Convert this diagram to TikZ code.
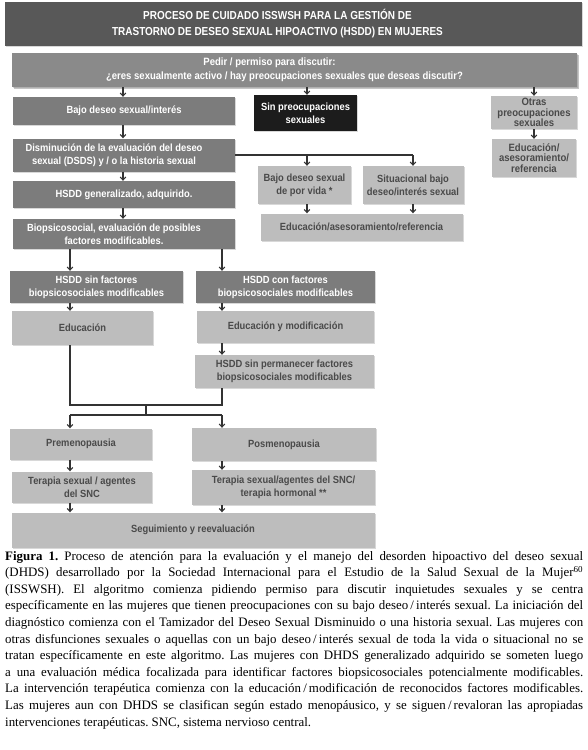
\documentclass[tikz,border=0pt]{standalone}
\usepackage{fontspec}
\setmainfont{Liberation Serif}
\newfontfamily\boxfont[FakeStretch=0.9]{Liberation Sans}
\newfontfamily\titlefont[FakeStretch=0.86]{Liberation Sans}
\usetikzlibrary{arrows.meta,shadows}
\definecolor{titlegray}{HTML}{585858}
\definecolor{pedirgray}{HTML}{8A8A8A}
\definecolor{midgray}{HTML}{7C7C7C}
\definecolor{lgray}{HTML}{BDBDBD}
\definecolor{boxtext}{HTML}{4A4A4A}
\definecolor{blackbox}{HTML}{1C1C1C}
\definecolor{linegray}{HTML}{333333}
\begin{document}
\begin{tikzpicture}[x=1pt,y=-1pt,
  boxfnt/.style={font=\boxfont\bfseries\fontsize{10.4}{13}\selectfont},
  box/.style={draw=none, inner sep=1pt, align=center, boxfnt,
    drop shadow={shadow xshift=1.2pt, shadow yshift=-1.2pt, opacity=0.3}},
  dbox/.style={box, fill=midgray, text=white},
  lbox/.style={box, fill=lgray, text=boxtext},
  kbox/.style={box, fill=blackbox, text=white},
  wtxt/.style={inner sep=0pt, align=center, text=white, boxfnt},
  arr/.style={draw=linegray, line width=1.1pt, -{Straight Barb[length=3pt,width=5.5pt]}},
  ln/.style={draw=linegray, line width=1.1pt, line join=miter}]
\useasboundingbox[fill=white] (0,0) rectangle (588,750);

% column coordinates
\coordinate (cA) at (123,0);
\coordinate (cB) at (307,0);
\coordinate (cC) at (413,0);
\coordinate (cD) at (534,0);
\coordinate (cL) at (70,0);
\coordinate (cR) at (222,0);

\node[box, fill=titlegray, minimum width=577pt, minimum height=44pt] (title) at (293.5,24) {};
\node[wtxt, font=\titlefont\bfseries\fontsize{11.6}{16.5}\selectfont, xshift=-16pt, yshift=0.5pt] (titletxt) at (title.center)
  {PROCESO DE CUIDADO ISSWSH PARA LA GESTIÓN DE\\TRASTORNO DE DESEO SEXUAL HIPOACTIVO (HSDD) EN MUJERES};

\node[box, fill=pedirgray, minimum width=565pt, minimum height=34pt,
  drop shadow={shadow xshift=2pt, shadow yshift=-2pt, opacity=0.45}] (pedir) at (294.5,70) {};
\node[wtxt, font=\boxfont\bfseries\fontsize{10.6}{14}\selectfont, xshift=-10pt] (pedirtxt) at (pedir.center)
  {Pedir / permiso para discutir:\hspace*{30pt}\\¿eres sexualmente activo / hay preocupaciones sexuales que deseas discutir?};

\node[dbox, minimum width=222pt, minimum height=28pt] (bajo) at (124,111) {Bajo deseo sexual/interés};
\node[kbox, minimum width=103pt, minimum height=36pt] (sinp) at (305.5,113) {Sin preocupaciones\\sexuales};
\node[lbox, minimum width=86pt, minimum height=33pt, font=\boxfont\bfseries\fontsize{10.6}{10.6}\selectfont] (otras) at (534,112.5) {Otras\\preocupaciones\\sexuales};
\node[lbox, minimum width=84pt, minimum height=38pt, font=\boxfont\bfseries\fontsize{10.6}{10.6}\selectfont] (eduR) at (534,158) {Educación/\\asesoramiento/\\referencia};

\node[dbox, minimum width=222pt, minimum height=33pt] (dism) at (124,155) {};
\node[wtxt, xshift=-10pt] (dismtxt) at (dism.center) {Disminución de la evaluación del deseo\\sexual (DSDS) y / o la historia sexual};
\node[lbox, minimum width=93pt, minimum height=38pt] (porvida) at (304.5,185) {Bajo deseo sexual\\de por vida *};
\node[lbox, minimum width=101pt, minimum height=38pt] (situ) at (413,185) {Situacional bajo\\deseo/interés sexual};
\node[lbox, minimum width=202pt, minimum height=27pt] (eduM) at (361.5,227) {Educación/asesoramiento/referencia};

\node[dbox, minimum width=222pt, minimum height=27pt] (hsddg) at (124,194.5) {HSDD generalizado, adquirido.};
\node[dbox, minimum width=222pt, minimum height=30pt] (bio) at (124,234) {};
\node[wtxt, xshift=-10pt] (biotxt) at (bio.center) {Biopsicosocial, evaluación de posibles\\factores modificables.};

\node[dbox, minimum width=173pt, minimum height=32pt] (sinf) at (96.5,287) {HSDD sin factores\\biopsicosociales modificables};
\node[dbox, minimum width=179pt, minimum height=32pt] (conf) at (285.5,287) {HSDD con factores\\biopsicosociales modificables};
\node[lbox, minimum width=141pt, minimum height=34pt] (edu) at (82.5,328) {Educación};
\node[lbox, minimum width=177pt, minimum height=32pt] (edum) at (285.5,327) {Educación y modificación};
\node[lbox, minimum width=179pt, minimum height=33pt] (perm) at (284.5,371.5) {HSDD sin permanecer factores\\biopsicosociales modificables};

\node[lbox, minimum width=142pt, minimum height=31pt] (pre) at (81,444) {Premenopausia};
\node[lbox, minimum width=184pt, minimum height=33pt] (pos) at (284,444.5) {Posmenopausia};
\node[lbox, minimum width=140pt, minimum height=31pt] (ter1) at (82,487) {Terapia sexual / agentes\\del SNC};
\node[lbox, minimum width=183pt, minimum height=35pt] (ter2) at (283.5,487.5) {Terapia sexual/agentes del SNC/\\terapia hormonal **};
\node[lbox, minimum width=363pt, minimum height=35pt] (seg) at (193,530) {Seguimiento y reevaluación};

% connectors, left column
\draw[arr] (pedir.south -| cA) -- (bajo.north -| cA);
\draw[arr] (bajo.south -| cA) -- (dism.north -| cA);
\draw[arr] (dism.south -| cA) -- (hsddg.north -| cA);
\draw[arr] (hsddg.south -| cA) -- (bio.north -| cA);
\draw[arr] (pedir.south -| cB) -- (sinp.north -| cB);
\draw[arr] (pedir.south -| cD) -- (otras.north -| cD);
\draw[arr] (otras.south -| cD) -- (eduR.north -| cD);

% branch from dism
\draw[ln] (dism.east) -- (dism.east -| cC);
\draw[arr] (dism.east -| cB) -- (porvida.north -| cB);
\draw[arr] (dism.east -| cC) -- (situ.north -| cC);
\draw[arr] (porvida.south -| cB) -- (eduM.north -| cB);
\draw[arr] (situ.south -| cC) -- (eduM.north -| cC);

% biopsicosocial split
\draw[arr] (bio.south -| cL) -- (sinf.north -| cL);
\draw[arr] (bio.south -| cR) -- (conf.north -| cR);
\draw[arr] (sinf.south -| cL) -- (edu.north -| cL);
\draw[arr] (conf.south -| cR) -- (edum.north -| cR);
\draw[arr] (edum.south -| cR) -- (perm.north -| cR);

% merge and split
\coordinate (m1) at (146,405);
\coordinate (m2) at (146,415);
\draw[ln] (edu.south -| cL) -- (m1 -| cL) -- (m1 -| cR) -- (perm.south -| cR);
\draw[ln] (m1) -- (m2);
\draw[ln] (m2 -| cL) -- (m2 -| cR);
\draw[arr] (m2 -| cL) -- (pre.north -| cL);
\draw[arr] (m2 -| cR) -- (pos.north -| cR);
\draw[arr] (pre.south -| cL) -- (ter1.north -| cL);
\draw[arr] (pos.south -| cR) -- (ter2.north -| cR);
\draw[arr] (ter1.south -| cL) -- (seg.north -| cL);
\draw[arr] (ter2.south -| cR) -- (seg.north -| cR);

% caption
\node[anchor=north west, inner sep=0pt, text width=578pt, align=justify,
  font=\frenchspacing\fontsize{12.9}{16.6}\selectfont] (cap) at (5,551)
{\textbf{Figura 1.} Proceso de atención para la evaluación y el manejo del desorden hipoactivo del deseo sexual\linebreak
(DHDS) desarrollado por la Sociedad Internacional para el Estudio de la Salud Sexual de la Mujer\textsuperscript{60}\linebreak
(ISSWSH). El algoritmo comienza pidiendo permiso para discutir inquietudes sexuales y se centra\linebreak
específicamente en las mujeres que tienen preocupaciones con su bajo deseo\,/\,interés sexual. La iniciación del\linebreak
diagnóstico comienza con el Tamizador del Deseo Sexual Disminuido o una historia sexual. Las mujeres con\linebreak
otras disfunciones sexuales o aquellas con un bajo deseo\,/\,interés sexual de toda la vida o situacional no se\linebreak
tratan específicamente en este algoritmo. Las mujeres con DHDS generalizado adquirido se someten luego\linebreak
a una evaluación médica focalizada para identificar factores biopsicosociales potencialmente modificables.\linebreak
La intervención terapéutica comienza con la educación\,/\,modificación de reconocidos factores modificables.\linebreak
Las mujeres aun con DHDS se clasifican según estado menopáusico, y se siguen\,/\,revaloran las apropiadas\linebreak
intervenciones terapéuticas. SNC, sistema nervioso central.};
\end{tikzpicture}
\end{document}
